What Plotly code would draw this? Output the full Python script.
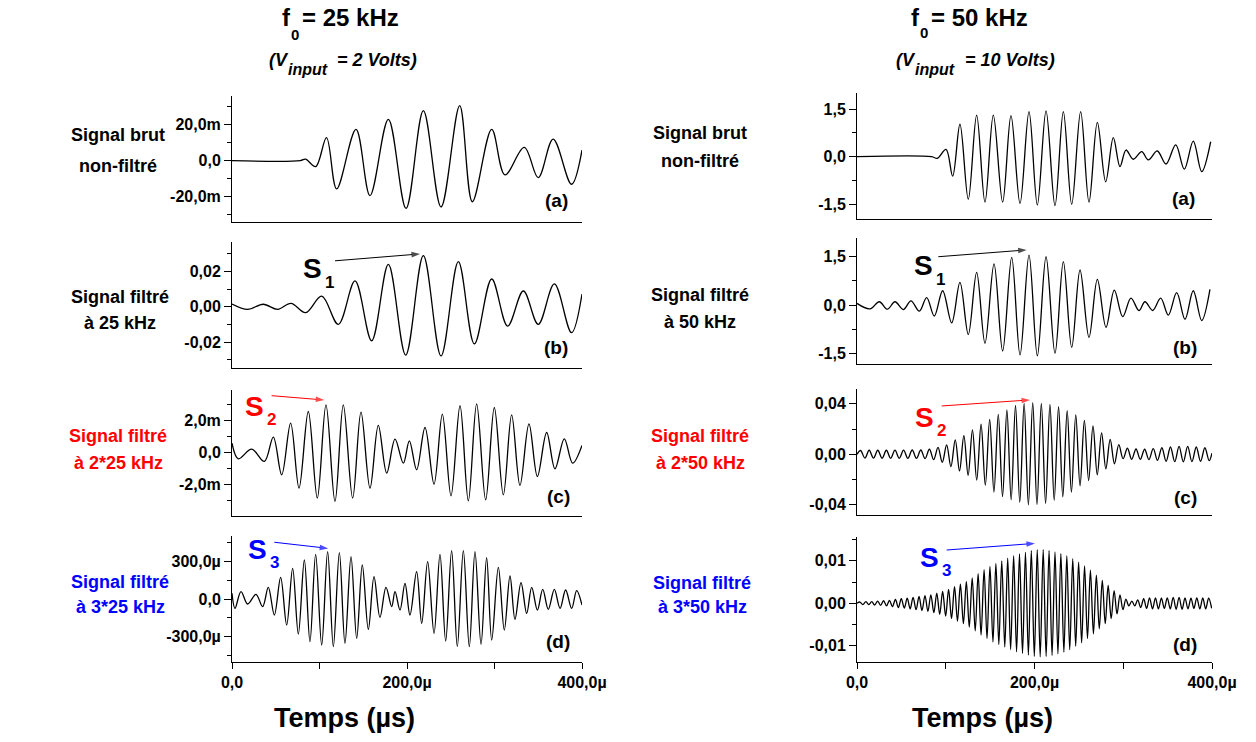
import plotly.graph_objects as go

W, H = 1256, 742
FONT = "Liberation Sans"

# ---------------- data (time in µs, signal in V) ----------------
# f0 = 25 kHz column
t_brut_25 = [0, 78, 84, 95.6, 108, 119.6, 141.7, 157.7, 178.7, 198.9, 218.7, 238.9, 260.2, 274.7,
             296.8, 312, 334, 350, 367, 388, 400]
v_brut_25 = [0, 0, 0.0009, -0.0033, 0.0128, -0.0157, 0.0174, -0.0194, 0.0230, -0.0265, 0.0278, -0.0257,
             0.0306, -0.0228, 0.0174, -0.0079, 0.0074, -0.0094, 0.0120, -0.0131, 0.0059]

t_f1_25 = [0, 17.9, 35.8, 52.2, 67.4, 84.2, 102.5, 121.5, 140.6, 159.6, 178.7, 198.5, 218.7, 238.9,
           258.7, 277, 296.8, 315, 333, 350, 368.4, 388, 400]
v_f1_25 = [0.0015, -0.0015, 0.0014, -0.0015, 0.0019, -0.0034, 0.0060, -0.0100, 0.0146, -0.0193, 0.0240,
           -0.0274, 0.0289, -0.0279, 0.0255, -0.0211, 0.0157, -0.0110, 0.0089, -0.0100, 0.0129, -0.0147, 0.0072]

t_f2_25 = [0, 7.2, 22.5, 37.0, 47.2, 56.8, 67.0, 76.6, 87.2, 97.5, 107.4, 117.7, 127.2, 137.9, 147.4,
           157.7, 167.2, 176.8, 186.3, 195.8, 202.7, 211.0, 220.6, 230.9, 240.4, 250.3, 260.6, 270.1,
           279.6, 289.9, 299.8, 310.1, 319.6, 329.1, 339.4, 349.0, 359.6, 369.1, 379.8, 389.3, 400]
v_f2_25 = [0.60e-3, -0.375e-3, 0.23e-3, -0.54e-3, 0.98e-3, -1.375e-3, 1.85e-3, -2.21e-3, 2.58e-3, -2.83e-3,
           3.0e-3, -3.04e-3, 3.0e-3, -2.83e-3, 2.54e-3, -2.21e-3, 1.71e-3, -1.27e-3, 0.85e-3, -0.65e-3,
           0.75e-3, -1.06e-3, 1.58e-3, -1.96e-3, 2.42e-3, -2.69e-3, 2.94e-3, -3.0e-3, 3.06e-3, -2.94e-3,
           2.83e-3, -2.63e-3, 2.375e-3, -2.04e-3, 1.81e-3, -1.48e-3, 1.27e-3, -1.0e-3, 0.875e-3, -0.65e-3,
           0.46e-3]

t_f3_25 = [0, 3.4, 10.3, 17.9, 27.4, 35.0, 41.5, 48.4, 55.6, 62.5, 69.3, 75.8, 82.7, 89.1, 95.6, 102.5,
           109.3, 115.8, 122.7, 129.1, 136.0, 142.5, 148.9, 155.8, 162.3, 169.1, 176.0, 182.5, 186.3, 192.0,
           197.7, 203.4, 211.0, 216.8, 223.6, 230.9, 237.7, 244.2, 251.0, 257.5, 264.4, 271.2, 277.7, 284.6,
           291.0, 296.8, 304.4, 311.2, 317.7, 323.4, 330.3, 336.8, 342.5, 349.0, 355.1, 361.5, 368.4, 374.9,
           381.3, 388.2, 393.9, 400]
v_f3_25 = [45e-6, -75e-6, 59e-6, -40e-6, 37e-6, -61e-6, 93e-6, -128e-6, 173e-6, -208e-6,
           245e-6, -280e-6, 312e-6, -341e-6, 357e-6, -368e-6, 379e-6, -381e-6, 371e-6, -355e-6,
           339e-6, -315e-6, 272e-6, -243e-6, 179e-6, -147e-6, 93e-6, -61e-6, 59e-6, -88e-6,
           125e-6, -128e-6, 219e-6, -195e-6, 299e-6, -275e-6, 357e-6, -336e-6, 387e-6, -381e-6,
           387e-6, -381e-6, 379e-6, -363e-6, 331e-6, -328e-6, 253e-6, -248e-6, 184e-6, -163e-6,
           131e-6, -115e-6, 93e-6, -88e-6, 77e-6, -83e-6, 77e-6, -75e-6, 72e-6, -75e-6,
           67e-6, -48e-6]

# f0 = 50 kHz column
t_brut_50 = [0, 84, 90.5, 100.3, 107.8, 116.0, 125.4, 134.8, 144.2, 153.6, 164.1, 173.5, 183.7, 193.8,
             203.2, 213.0, 223.1, 232.5, 241.9, 252.0, 261.4, 270.8, 280.2, 288.8, 296.3, 303.1, 311.3,
             320.8, 328.2, 338.4, 348.2, 359.1, 368.8, 378.9, 388.4, 398.5]
v_brut_50 = [0, 0, -0.05, 0.23, -0.61, 1.02, -1.34, 1.31, -1.43, 1.31, -1.43, 1.29, -1.47, 1.42, -1.52,
             1.44, -1.54, 1.42, -1.50, 1.42, -1.43, 1.08, -0.79, 0.60, -0.31, 0.21, -0.08, 0.16, -0.10,
             0.18, -0.23, 0.37, -0.39, 0.49, -0.47, 0.47]

t_f1_50 = [0, 14.6, 25.1, 34.2, 42.8, 52.2, 60.8, 70.2, 78.5, 87.1, 96.5, 106.7, 116.0, 125.4, 134.8,
           144.2, 154.4, 164.1, 174.3, 183.7, 193.8, 203.2, 213.0, 223.1, 232.5, 241.9, 251.3, 261.4,
           270.8, 280.6, 289.9, 299.4, 308.7, 317.7, 324.5, 333.2, 342.2, 350.8, 360.2, 369.6, 378.9,
           388.4, 397.7]
v_f1_50 = [0.05, -0.12, 0.10, -0.13, 0.10, -0.14, 0.13, -0.19, 0.23, -0.34, 0.44, -0.55, 0.70, -0.91,
           1.01, -1.18, 1.27, -1.42, 1.47, -1.54, 1.54, -1.57, 1.49, -1.49, 1.34, -1.31, 1.08, -1.00,
           0.79, -0.69, 0.46, -0.36, 0.21, -0.17, 0.10, -0.17, 0.21, -0.31, 0.38, -0.44, 0.44, -0.48, 0.48]

t_f2_50 = [0, 4.0, 8.9, 13.7, 18.6, 23.4, 28.3, 33.1, 37.9, 42.8, 47.6, 52.5, 57.3, 62.2, 67.0, 71.9,
           76.7, 81.6, 86.4, 91.3, 96.1, 101.0, 105.8, 110.7, 115.5, 120.4, 125.2, 130.1, 134.9, 139.8,
           144.6, 149.5, 154.3, 159.2, 164.0, 168.9, 173.7, 178.6, 183.4, 188.3, 193.1, 198.0, 202.8,
           207.7, 212.5, 217.4, 222.2, 227.1, 231.9, 236.8, 241.6, 246.5, 251.3, 256.2, 261.0, 265.9,
           270.7, 275.6, 280.4, 285.3, 290.1, 295.0, 299.8, 304.7, 309.5, 314.4, 319.2, 324.1, 328.9,
           333.8, 338.6, 343.5, 348.3, 353.2, 358.0, 362.9, 367.7, 372.6, 377.4, 382.3, 387.1, 392.0,
           396.8, 400]
v_f2_50 = [0.0, 0.0030, -0.0030, 0.0032, -0.0030, 0.0032, -0.0031, 0.0032, -0.0031, 0.0033, -0.0031,
           0.0033, -0.0032, 0.0034, -0.0032, 0.0034, -0.0034, 0.0040, -0.0042, 0.0055, -0.0063, 0.0074,
           -0.0098, 0.0114, -0.0132, 0.0148, -0.0166, 0.0193, -0.0205, 0.0238, -0.0245, 0.0277, -0.0300,
           0.0317, -0.0335, 0.0351, -0.0360, 0.0388, -0.0380, 0.0404, -0.0400, 0.0409, -0.0398, 0.0404,
           -0.0390, 0.0396, -0.0365, 0.0378, -0.0337, 0.0345, -0.0300, 0.0312, -0.0250, 0.0268, -0.0208,
           0.0225, -0.0162, 0.0170, -0.0115, 0.0118, -0.0075, 0.0076, -0.0035, 0.0048, -0.0040, 0.0042,
           -0.0040, 0.0040, -0.0042, 0.0045, -0.0048, 0.0052, -0.0055, 0.0058, -0.0058, 0.0062, -0.0060,
           0.0062, -0.0058, 0.0058, -0.0055, 0.0052, -0.0050, 0.0010]

t_f3_50 = [0, 3.3, 6.6, 10.0, 13.3, 16.6, 19.9, 23.3, 26.6, 29.9, 33.3, 36.6, 39.9, 43.3, 46.6, 49.9,
           53.3, 56.6, 59.9, 63.2, 66.6, 69.9, 73.2, 76.6, 79.9, 83.2, 86.6, 89.9, 93.2, 96.5, 99.9,
           103.2, 106.5, 109.9, 113.2, 116.5, 119.9, 123.2, 126.5, 129.8, 133.2, 136.5, 139.8, 143.2,
           146.5, 149.8, 153.2, 156.5, 159.8, 163.1, 166.5, 169.8, 173.1, 176.5, 179.8, 183.1, 186.5,
           189.8, 193.1, 196.4, 199.8, 203.1, 206.4, 209.8, 213.1, 216.4, 219.8, 223.1, 226.4, 229.7,
           233.1, 236.4, 239.7, 243.1, 246.4, 249.7, 253.1, 256.4, 259.7, 263.0, 266.4, 269.7, 273.0,
           276.4, 279.7, 283.0, 286.4, 289.7, 293.0, 296.3, 299.7, 303.0, 306.3, 309.7, 313.0, 316.3,
           319.7, 323.0, 326.3, 329.6, 333.0, 336.3, 339.6, 343.0, 346.3, 349.6, 353.0, 356.3, 359.6,
           362.9, 366.3, 369.6, 372.9, 376.3, 379.6, 382.9, 386.3, 389.6, 392.9, 396.2, 399.6]
v_f3_50 = [0.0,
           0.0003, -0.0003, 0.0004, -0.0003, 0.0004, -0.0004, 0.0005, -0.0005, 0.0006, -0.0006,
           0.0007, -0.0008, 0.0009, -0.0010, 0.0011, -0.0011, 0.0012, -0.0013, 0.0014, -0.0015,
           0.0016, -0.0017, 0.0018, -0.0019, 0.0020, -0.0022, 0.0024, -0.0026, 0.0028, -0.0030,
           0.0033, -0.0036, 0.0039, -0.0042, 0.0045, -0.0048, 0.0051, -0.0056, 0.0060, -0.0065,
           0.0070, -0.0075, 0.0079, -0.0083, 0.0087, -0.0091, 0.0094, -0.0097, 0.0100, -0.0103,
           0.0106, -0.0109, 0.0112, -0.0114, 0.0116, -0.0118, 0.0120, -0.0122, 0.0124, -0.0125,
           0.0126, -0.0126, 0.0126, -0.0125, 0.0124, -0.0123, 0.0121, -0.0119, 0.0117, -0.0115,
           0.0112, -0.0109, 0.0105, -0.0101, 0.0097, -0.0093, 0.0088, -0.0083, 0.0078, -0.0072,
           0.0066, -0.0060, 0.0054, -0.0048, 0.0042, -0.0036, 0.0030, -0.0025, 0.0020, -0.0015,
           0.0010, -0.0006, 0.0005, -0.0006, 0.0008, -0.0010, 0.0011, -0.0012, 0.0013, -0.0013,
           0.0013, -0.0013, 0.0012, -0.0012, 0.0013, -0.0013, 0.0014, -0.0014, 0.0014, -0.0014,
           0.0013, -0.0013, 0.0012, -0.0012, 0.0013, -0.0013, 0.0013, -0.0013, 0.0012, -0.0012]

# tick labels
x_tickvals = [0, 200, 400]
x_ticktext = ["0,0", "200,0µ", "400,0µ"]
x_minorvals = [100, 300]

# ---------------- layout helpers ----------------
def xd(a, b):
    return [a / W, b / W]

def yd(top, bottom):
    return [1 - bottom / H, 1 - top / H]

LEFT = (232, 582)
RIGHT = (857, 1212)

panels = [
    # (t, v, xpx, ypx(top,bottom), yrange, tickvals, ticktext, minorvals)
    (t_brut_25, v_brut_25, LEFT, (96, 222), [-0.03406, 0.03594], [0.02, 0, -0.02], ["20,0m", "0,0", "-20,0m"], [0.03, 0.01, -0.01, -0.03]),
    (t_f1_25, v_f1_25, LEFT, (242, 368), [-0.03473, 0.03666], [0.02, 0, -0.02], ["0,02", "0,00", "-0,02"], [0.03, 0.01, -0.01, -0.03]),
    (t_f2_25, v_f2_25, LEFT, (390, 516), [-0.00395, 0.003925], [0.002, 0, -0.002], ["2,0m", "0,0", "-2,0m"], [0.003, 0.001, -0.001, -0.003]),
    (t_f3_25, v_f3_25, LEFT, (536, 662), [-0.000504, 0.000504], [0.0003, 0, -0.0003], ["300,0µ", "0,0", "-300,0µ"], [0.00045, 0.00015, -0.00015, -0.00045]),
    (t_brut_50, v_brut_50, RIGHT, (93, 219), [-1.959, 2.003], [1.5, 0, -1.5], ["1,5", "0,0", "-1,5"], [0.75, -0.75]),
    (t_f1_50, v_f1_50, RIGHT, (238, 364), [-1.821, 2.068], [1.5, 0, -1.5], ["1,5", "0,0", "-1,5"], [0.75, -0.75]),
    (t_f2_50, v_f2_50, RIGHT, (389, 515), [-0.0481, 0.05174], [0.04, 0, -0.04], ["0,04", "0,00", "-0,04"], [0.02, -0.02]),
    (t_f3_50, v_f3_50, RIGHT, (537, 662), [-0.01381, 0.0156], [0.01, 0, -0.01], ["0,01", "0,00", "-0,01"], [0.015, 0.005, -0.005, -0.015]),
]

fig = go.Figure()
tickfont = dict(family=FONT, size=16, color="black", weight="bold")

for i, (t, v, xp, yp, yr, tv, tt, mv) in enumerate(panels):
    n = i + 1
    sx = "" if n == 1 else str(n)
    fig.add_trace(go.Scatter(
        x=t, y=v, mode="lines", xaxis="x" + sx, yaxis="y" + sx,
        line=dict(color="black", width=1.3, shape="spline", smoothing=1.0),
        showlegend=False, hoverinfo="skip"))
    bottom = n in (4, 8)
    xa = dict(domain=xd(*xp), range=[0, 400], anchor="y" + sx, showline=True, linecolor="black",
              linewidth=1, showgrid=False, zeroline=False, fixedrange=True, automargin=False)
    if bottom:
        xa.update(tickmode="array", tickvals=x_tickvals, ticktext=x_ticktext, ticks="outside",
                  ticklen=6, tickwidth=1, tickcolor="black", tickfont=tickfont,
                  minor=dict(tickmode="array", tickvals=x_minorvals, ticks="outside", ticklen=6,
                             tickcolor="black", tickwidth=1))
    else:
        xa.update(showticklabels=False, ticks="")
    ya = dict(domain=yd(*yp), range=yr, anchor="x" + sx, showline=True, linecolor="black",
              linewidth=1, showgrid=False, zeroline=False, tickmode="array", tickvals=tv,
              ticktext=tt, ticks="outside", ticklen=7, tickwidth=1, tickcolor="black",
              tickfont=tickfont, fixedrange=True, automargin=False,
              minor=dict(tickmode="array", tickvals=mv, ticks="outside", ticklen=4,
                         tickcolor="black", tickwidth=1))
    fig.layout["xaxis" + sx] = xa
    fig.layout["yaxis" + sx] = ya

ann = []

def ptxt(text, px, py, size, color="black", anchor="center"):
    ann.append(dict(text=text, x=px / W, y=1 - py / H, xref="paper", yref="paper", showarrow=False,
                    xanchor=anchor, yanchor="middle", borderpad=0,
                    font=dict(family=FONT, size=size, color=color)))

RED = "#ff0000"
BLUE = "#0000ff"

# titles (subscripts as separate smaller texts)
ptxt("<b>f</b>", 292, 17, 24, anchor="right")
ptxt("<b>0</b>", 295, 34, 15)
ptxt("<b>= 25 kHz</b>", 301, 17, 24, anchor="left")
ptxt("<b>f</b>", 921, 17, 24, anchor="right")
ptxt("<b>0</b>", 924, 33, 15)
ptxt("<b>= 50 kHz</b>", 930, 17, 24, anchor="left")

ptxt("<b><i>(V</i></b>", 290, 60, 18, anchor="right")
ptxt("<b><i>input</i></b>", 287, 69, 16, anchor="left")
ptxt("<b><i>= 2 Volts)</i></b>", 336, 60, 18, anchor="left")
ptxt("<b><i>(V</i></b>", 917, 60, 18, anchor="right")
ptxt("<b><i>input</i></b>", 914, 69, 16, anchor="left")
ptxt("<b><i>= 10 Volts)</i></b>", 964, 60, 18, anchor="left")

# row labels
for (l1, l2, x, y1, y2, c) in [
    ("Signal brut", "non-filtré", 118, 135, 166, "black"),
    ("Signal filtré", "à 25 kHz", 120, 297, 323, "black"),
    ("Signal filtré", "à 2*25 kHz", 118, 436, 463, RED),
    ("Signal filtré", "à 3*25 kHz", 120, 582, 607, BLUE),
    ("Signal brut", "non-filtré", 700, 133, 161, "black"),
    ("Signal filtré", "à 50 kHz", 700, 295, 322, "black"),
    ("Signal filtré", "à 2*50 kHz", 700, 436, 463, RED),
    ("Signal filtré", "à 3*50 kHz", 702, 583, 607, BLUE),
]:
    ptxt("<b>" + l1 + "</b>", x, y1, 18, c)
    ptxt("<b>" + l2 + "</b>", x, y2, 18, c)

# panel letters
for (s, x, y) in [("(a)", 556, 200), ("(b)", 556, 347), ("(c)", 558, 496), ("(d)", 558, 641),
                  ("(a)", 1183, 199), ("(b)", 1185, 348), ("(c)", 1185, 497), ("(d)", 1185, 644)]:
    ptxt("<b>" + s + "</b>", x, y, 19)

# axis titles
ptxt("<b>Temps (µs)</b>", 344, 718, 27)
ptxt("<b>Temps (µs)</b>", 982, 718, 27)

# S labels: big letter + small index (index placed just right of the letter)
for (letter, idx, color, sx_, sy_) in [
    ("S", "1", "black", 313, 269),
    ("S", "2", RED, 255, 406),
    ("S", "3", BLUE, 258, 549),
    ("S", "1", "black", 924, 266),
    ("S", "2", RED, 925, 417),
    ("S", "3", BLUE, 930, 557),
]:
    ptxt("<b>" + letter + "</b>", sx_ + 10, sy_, 28, color, anchor="right")
    ptxt("<b>" + idx + "</b>", sx_ + 11, sy_ + 13, 17, color, anchor="left")

# arrows pointing to S peaks (data coordinates: tail -> head)
arrows = [
    (2, "black", 117.7, 0.026, 214.9, 0.0299),
    (3, RED, 45.3, 0.00357, 105.5, 0.0033),
    (4, BLUE, 48.4, 0.000454, 110.0, 0.000405),
    (6, "black", 91.6, 1.49, 191.2, 1.70),
    (7, RED, 95.4, 0.0383, 195.0, 0.0431),
    (8, BLUE, 101.0, 0.01254, 200.6, 0.0141),
]
for (ax_n, color, t0, v0, t1, v1) in arrows:
    fig.add_trace(go.Scatter(
        x=[t0, t1], y=[v0, v1], mode="lines+markers", xaxis="x%d" % ax_n, yaxis="y%d" % ax_n,
        line=dict(color=color, width=1),
        marker=dict(symbol="arrow", size=[0, 9], color=color, angleref="previous",
                    line=dict(width=0)),
        showlegend=False, hoverinfo="skip"))

fig.update_layout(
    template="none",
    width=W, height=H, margin=dict(l=0, r=0, t=0, b=0, pad=0, autoexpand=False),
    paper_bgcolor="white", plot_bgcolor="white",
    font=dict(family=FONT, color="black"),
    annotations=ann, showlegend=False,
)

fig.write_html(
    "out.html",
    config={"displayModeBar": False},
    post_script="document.body.style.margin='0';document.body.style.overflow='hidden';"
                "document.documentElement.style.overflow='hidden';",
)
